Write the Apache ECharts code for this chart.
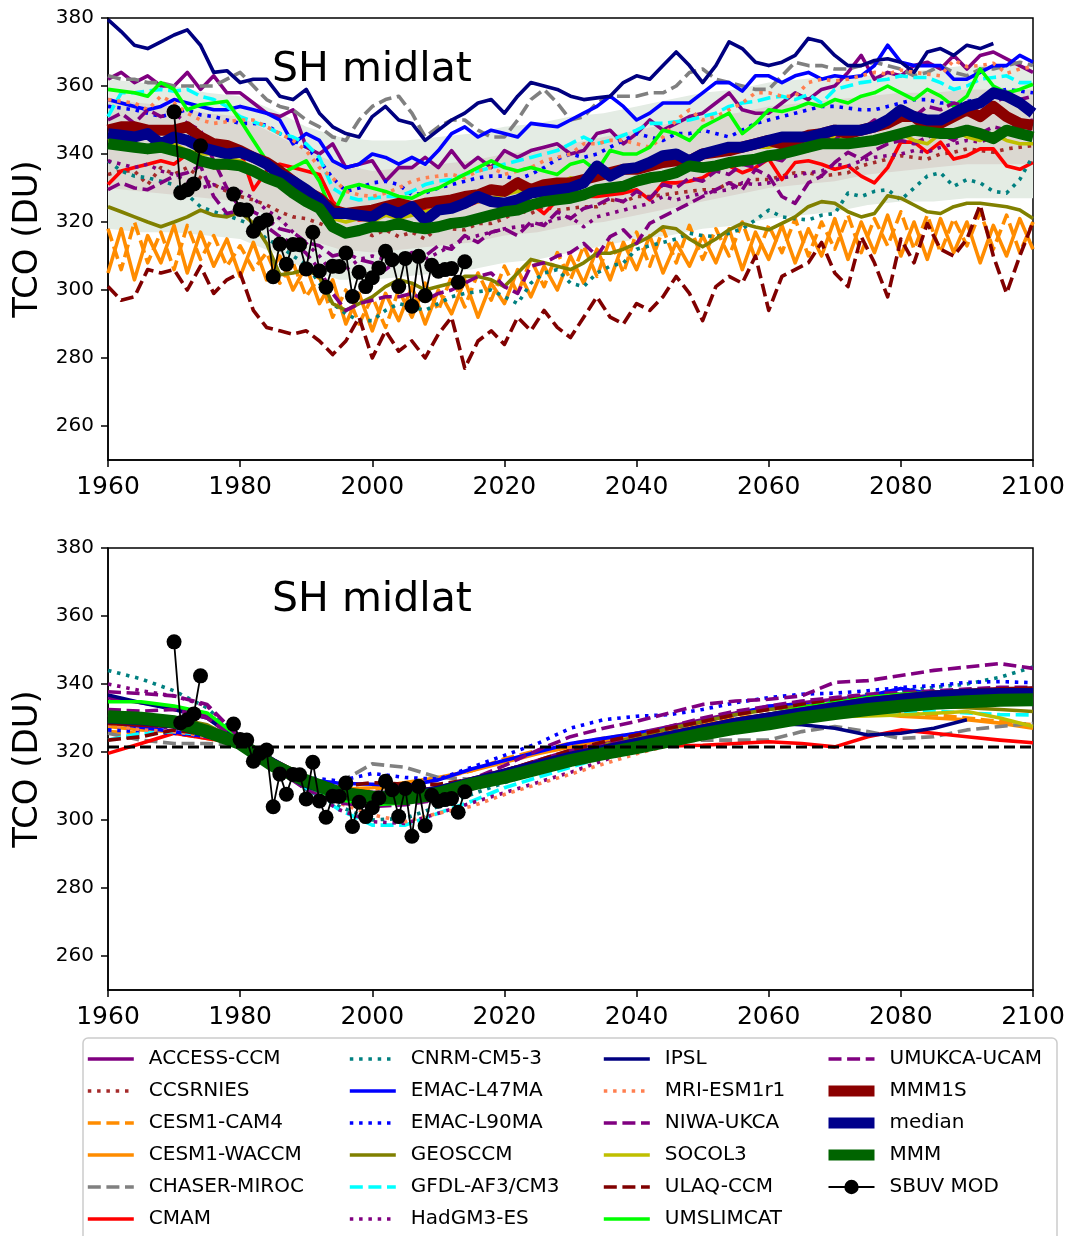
<!DOCTYPE html>
<html><head><meta charset="utf-8">
<script src="https://cdn.jsdelivr.net/npm/echarts@6/dist/echarts.min.js"></script>
<style>html,body{margin:0;padding:0;background:#fff}#c{width:1071px;height:1236px}</style>
</head><body><div id="c"></div>
<script>
// ---------------- DATA ----------------
const yearsTop = [1960,1962,1964,1966,1968,1970,1972,1974,1976,1978,
1980,1982,1984,1986,1988,1990,1992,1994,1996,1998,
2000,2002,2004,2006,2008,2010,2012,2014,2016,2018,
2020,2022,2024,2026,2028,2030,2032,2034,2036,2038,
2040,2042,2044,2046,2048,2050,2052,2054,2056,2058,
2060,2062,2064,2066,2068,2070,2072,2074,2076,2078,
2080,2082,2084,2086,2088,2090,2092,2094,2096,2098,
2100];
const yearsBot = [1960,1965,1970,1975,1980,1985,1990,1995,2000,2005,
2010,2015,2020,2025,2030,2035,2040,2045,2050,2055,
2060,2065,2070,2075,2080,2085,2090,2095,2100];
const yearsObs = [1970,1971,1972,1973,1974,1975,1976,1977,1978,1979,
1980,1981,1982,1983,1984,1985,1986,1987,1988,1989,
1990,1991,1992,1993,1994,1995,1996,1997,1998,1999,
2000,2001,2002,2003,2004,2005,2006,2007,2008,2009,
2010,2011,2012,2013,2014];
const yTicks = [260,280,300,320,340,360,380];
const refLevel = 321.5;

const accessTop = [362,364,361,363,360,360,364,359,363,358, 358,355,352,351,353,342,340,343,336,337, 338,332,336,336,339,336,341,336,339,336, 341,339,341,342,343,340,341,346,347,343, 346,350,347,349,351,352,355,358,353,352, 352,355,358,356,359,360,364,369,362,364, 363,366,367,365,369,365,369,370,368,366, 364];
const ccsrTop = [334,335,335,331,336,334,336,333,331,329, 327.5,326.5,325,323,321.5,321,319.6,318,316,317.7, 316,317.7,315.7,317,315,318.6,318,317.7,319.6,319.6, 321,323.5,322.5,324.5,323.5,324,324.5,324.5,326.5,326, 327.5,327.5,328,328.5,329,329.5,329.5,331.5,331,332.5, 332.5,333.5,334.5,334.5,333.5,334,334.5,336.5,337.5,338.5, 339.5,339,338.5,340,340.5,341.5,341,340.5,341.5,342, 342.5];
const cam4Top = [318,306,320,308,317,306,319,309,316,307, 313,306,311,302,308,298,304,292,300,290, 298,289,300,292,302,294,304,295,305,297, 307,299,309,301,311,303,313,304,315,305, 317,307,318,308,319,309,318,310,320,309, 319,311,321,310,320,312,322,311,321,313, 323,312,322,311,321,313,323,312,322,311, 320];
const waccmTop = [305,318,303,316,308,319,305,317,307,315, 304,314,303,310,300,307,296,303,290,299, 288,299,291,301,290,300,293,303,292,302, 296,306,298,307,300,310,302,312,303,314, 306,316,305,314,307,316,308,318,306,317, 309,319,308,318,310,321,309,320,311,322, 310,320,309,321,311,320,308,319,310,321, 312];
const chaserTop = [363,362,362,361,361,360,360,360,360,362, 364,360,356,354,353,350,348,345,344,350, 354,356,357,352,345,348,350,350,347,345, 345,350,356,359,355,350,351,355,357,357, 357,358,358,360,364,365,362,361,360,359, 359,363,367,366,366,365,365,366,367,366, 365,363,364,366,364,363,365,365,366,367, 366];
const cmamTop = [331,335,336,337,338,337,340,338,336,336, 341,329.5,335,337,336,335,334,326,322,320.6, 321,322,322.5,323,323.5,323.5,324,324.5,326,326.5, 325.5,327.5,325.5,322.5,326.5,327,327.5,327.5,328,328.5, 329.5,326.5,331.5,331.5,332,333,335.5,336.5,334.5,336, 338.5,332.5,337.5,338,337,335.5,336.5,333.5,331.5,336, 343.5,343.5,340.5,343.5,338.5,339.5,341.5,341.5,336.5,335.5, 337.5];
const cnrmTop = [338,335,333.5,333,332,331,328,324.5,323,322, 320.5,319,315,313,310,307.5,302,296,293,291, 291,294,296,295,294,296,298,299,299.5,300, 298,296,302,305,306,302,301,305,307,308, 312,313,314,315,316.7,316,315.7,316.7,318,320.6, 323.5,321.5,321,320.6,322,322.5,328.5,327.5,329,329.5, 326.5,330,333.5,334.5,330.5,332.5,331.5,329,328.5,332.5, 339.5];
const emac47Top = [356,355,354,353,354,356,355,354,353,353, 354,353,352,350,343,346,344,338,336,337, 340,339,337,339,337,341,346,348,345,347, 346,345,349,348.5,348,350,352,354,357,354, 350,352,355,355,355,358,361,361,358.5,363, 363,361,363,364,362,363,362.5,363,366,372, 367,366,366,366,362,362,364,366,366,369, 367];
const emac90Top = [354,353.5,353,352,351,352,353,351.5,351,350, 349,349,348.5,346,344,342,338,333,329,330, 331.5,332,331,328,328.5,330,331,332,333,333.5, 333.5,332.5,334,336,338.5,340,339,340,342,344, 346,345,344,346,346,347,346,345,347,349, 350,351,352,353,354,354,353.5,353,353,354, 355,356,356,355,355,355.5,356,358,359,358.5, 358];
const geosTop = [324.5,323,321.5,320,318.6,320,321.5,323.5,322,321.5, 323,319.6,313.7,304.5,305,306,304,296,294,296, 298,301,303,302,300,301,302,304,304,303, 301,305,309,308,307,306,308,310.8,310.8,312, 313.7,315.7,318.6,318,315,312.7,315,317.7,319.6,318.5, 317.7,319.6,321.5,324.5,326,325.5,323,321.5,322.5,327.7, 327,325,323,322.5,324.5,325.5,325.5,325,324.5,323.5, 321];
const gfdlTop = [351,358,358,358.5,359,358.5,359,357,356,354, 351,349.5,348,346,345,343,339,330,327.5,326.5, 327,327.5,327.5,329,331,332,332.5,334,335,336, 337,338,339,340,341,343,345,343,344,345.5, 347,349,349,349.5,350,351,352,354,355,355.5, 356.5,357,356,357.5,355,359,360,361,361.5,362, 363,362.5,362.5,361,359,360,362,362.5,363,361, 361];
const hadTop = [338,337,336,337,335,334,332,330,331,329.5, 329,327,323.5,321,317,313.7,310,305,306,309, 310,309,309.5,310,309,311,313,315,316,317, 318,318.6,319,319.6,321,321.5,318.6,321.5,322.5,323.5, 324.5,325.5,327.5,326.5,327.5,328.5,329,329.5,331.5,331, 331.5,333,333.5,334.5,335,337,336.5,338,339,339.5, 340,341,340.5,342,343,344,343.5,345,346,346.5, 347];
const ipslTop = [379.5,376,372,371,373,375,376.5,372,364,364.5, 361,362,362,357,356,359,352,348,346,345, 351,354,350,349,344,347,350,352,355,356, 352,357,361,360,359,357,356,356.5,357,361, 363,362,366,370,366,361,366,373,371,367, 366,367,369,374,373,369,366,366,367.5,368, 367,364,370,371,369,372,371,372.5];
const mriTop = [356,355.5,355,353,357,355,352,350,349,349.5, 350,350,348,346,344,341,336,333,329,328, 327.5,328.5,330,332,333,333.5,334,333,335,336, 334,335,336,338,339,340,343,343,344,344, 343,342,345,350,353,350,351,353,355,358, 358,357,357,361,362,361.5,362,363,364,363.5, 364.7,364,363.5,363,367.6,365.7,366,366.7,363.7,365, 365.7];
const niwaTop = [329.5,331.5,330,329.5,331.5,333.5,334.5,336.5,327.5,322.5, 323.5,321.5,318.6,315.7,313.7,310.8,306,299,294,296, 297,298,298,299,297,299,300,302,304,305, 301,299,307,308,310,311,313.7,310,315.7,317.7, 313.7,319.6,321.6,323.5,325.5,327.5,329.5,331.5,329.5,335.5, 333.5,327.5,325.5,331.5,333.5,337.5,340.5,338.5,341,343, 344,343,345,346,344,347,346,348,347,349, 350];
const socolTop = [344,345,344,345,343,343,341,340,340,339, 338,336,334,331,329,326,323,321,320,321, 320,322,321,322,323,324,325,326,326,327, 328,329,329,330,331,333,332,334,335,335, 336,337,337,338,339,339,340,340,341,342, 342,343,343,344,344,345,345,343,345,346, 346,344,343,346,347,345,344,346,344,343, 343];
const ulaqTop = [301,297,298,306,305,306,300,307,299,303, 305,294,289,288,287,288,285,281,285,292, 280,288,282,285,280,287,292,277,285,288, 284,292,288,294,289,286,292,298,292,290, 296,294,298,304,299,291,301,304,302,310, 294,304,306,308,314,305,301,315.7,308,298, 315,308,319.6,312,310,315,325,310,299,310, 320];
const umslimTop = [359,358.5,358,357,361,359,353,354.5,355,355.5, 350,344,338,334,336,338,332,322,330,331, 330,329,327.5,327,329,330,332,334,336,338, 336,335,336,335,334,337,338,335,341,340, 340,342,347,346,344,348,350,352,346,349, 353,352.5,353.5,355,354,356,355,357,358,360, 358,356,359,357,354,357,365,360,358,359, 360.5];
const umukcaTop = [350,352,349,353,351,352,349,347,338,330, 324,323,321,318,317,314,313,310,311,309, 308,306,309,311,310,313,312,316,314,317, 318,316,320,319,323,321,324,325,327,326, 329,327,331,330,333,332,335,334,337,336, 339,338,342,341,345,344,348,347,350,349, 352,351,354,353,355,354,356,355,357,356, 357];
const mmm1sTop = [347,348,348,347,347,347,348,345,343,342.5, 341,339,337.5,335,332,329,327,323.5,322.5,323, 323.5,324.5,325.5,324.5,325.5,326,326.5,327.5,328,329.5, 329,331.5,329.5,331,331.5,331.5,332.5,333.5,334.5,335.5, 335.5,336.5,337.5,338,338,340,340.5,341,342,343, 344,343,344,345.5,346,347,346,347,348,349, 351,351,348,349,351,353,351,354,351,349, 348.5];
const medianTop = [346,345.5,345,346,343,345,344,342,341,340, 340.5,339,337,334,332,329.5,326.5,322.5,322.5,322, 321.5,324,322.5,324.5,320.5,323.5,324,325.5,327.5,326, 325.5,326.5,328.5,329,329.5,330,331.5,336.5,333.5,335.5, 336,337.5,339.5,340,338,340,341,342,342,343, 344,345,345,345,346,347,347,347,348,350, 353,351,350,350,352,354,355,358,357,355, 352];
const mmmTop = [343,342.5,342,341.5,342,341,340,338,337,337, 336.5,335,333,331.5,328.5,326,324,318.6,316.7,317.5, 318.6,318.6,319.6,318.5,318,318.6,319.6,320,321,322, 323,323.5,325,326,326.5,327,328,329.5,330,330.5, 332,333,333.5,334.5,336.5,336,336.5,337.5,338,338.5, 339.5,340,341,342,343,343,343,343.5,344,345, 346,347,346.5,346,346,347,346,344.5,347,346, 345];
// top panel spread bands (5-yearly)
const outerLo = [318,317,317,316,315,311,306,303,303,304, 305,306,308,309,311,313,315,316,318,319, 321,322,323,325,326,326,327,327,327];
const outerHi = [362,361,360,358,357,353,348,345,344,344, 345,346,348,349,351,352,354,356,358,359, 361,362,363,363,364,365,366,366,366];
const innerLo = [330,329,328,327,326,321,315,312,311,312, 313,314,316,317,319,320,322,324,326,328, 330,331,332,334,335,336,337,337,337];
const innerHi = [356,355,354,352,351,346,341,337,335,336, 337,338,340,341,343,345,347,349,351,352, 354,355,356,357,358,358,359,359,359];

// bottom panel (smoothed, 5-yearly)
const accessBot = [336,334.5,333,330.5,323.5,316,310,307,306.5,307, 308.5,311.5,314.5,317.5,320.5,323,325.5,327.5,329.5,331.5, 333,334.5,335.5,336.5,337,337.5,338,338.5,338];
const ccsrBot = [328,327.5,327,325.5,322.5,316.5,311,308,307,307, 308.5,311,313.5,316,318.5,321,323,325,327,329, 330.5,332,333.5,334.5,335.5,336,336.5,336.5,336];
const cam4Bot = [326,325.5,325.5,324,322,316.5,311,309,309,310.5, 312,314.5,318,320.5,322.5,324,325.5,327,328.5,330, 331,332,332.5,332,331.5,331,330,329,328];
const waccmBot = [327.5,326.5,326,324.5,322,316.5,311.5,309,309.5,311, 312.5,314.5,317,319.5,321.5,323.5,325,326.5,328,329.5, 330.5,331.5,332,331.5,330.5,330,329.5,328.5,327];
const chaserBot = [325.5,323.5,322.5,322.5,322,316,311,311,316.5,315.5, 312.5,312,314,316.5,318.5,320.5,322,323,323.5,323.5, 323.5,326,327.5,326,324,324.5,326.5,327.5,328.4];
const cmamBot = [319.6,322.5,325.5,324,322.5,316.5,311,308,307.5,308.5, 309.5,311.5,313.5,315.5,317.5,319.5,321.5,321.8,322,322.5, 323,322.5,321.5,324.5,326.5,325.5,324.5,323.5,322.7];
const cnrmBot = [344,341.5,338,333,324,316,309,304,300,300.5, 304,307.5,311,314,317.5,321,324,326,327.5,329, 330.5,333,335,337,338,339,340,342,345];
const emac47Bot = [328.9,327.3,326,324.5,322.5,317,312,310.8,310.5,310, 311.8,315,317.5,320,322.5,324,325.5,327,329,331, 333.5,334,333,336.5,338.7,337,337.5,338,338.7];
const emac90Bot = [326.5,326,325.5,324.5,322,317,312.5,311.5,313.7,312.5, 312,315.5,319,322.5,327,329.5,330.5,331,332.5,334.5, 336,337,337.3,338,339,339.5,340.5,340.7,340.4];
const geosBot = [331.5,331,330,328,323,316,310,307,306,306.5, 308.5,311,314,317,319.5,322,324.5,327,329,331, 332.5,333.5,333.8,334,333.8,333.5,333,332.5,331.9];
const gfdlBot = [323.5,325.5,326,325,322,316,309.5,303,298.5,298.5, 302,305.5,309.5,312.5,315.5,318.5,321,323.5,325.5,327.5, 329,330,331,331.5,331.9,332,331.5,331,330.9];
const hadBot = [340,338,336.5,333.5,324,316,309,303,299.5,299, 302,305,308,311,314,317.5,321,323.5,326,328, 330,332,334,336,337,337.5,338,338.5,338];
const ipslBot = [336.8,334.5,332.5,330,323,316,310.5,307.5,307,308, 309,311.5,314,316.5,319,321,323,325,326.5,328, 328.4,328,327,325,325.5,327,329.5];
const mriBot = [328,326.5,326,324.5,322,316.5,310.5,305,301.5,299.5, 302,304,307.5,310.5,313.5,316.5,319.5,322,324,326, 327.5,329,330.5,332,333.3,333.8,334,334.2,334.3];
const niwaBot = [332.5,332,332.5,330,323,315.5,309,305,304,304.5, 306,309,312.5,316,319.5,322.5,325,327.5,330,332, 333.5,335,336,337,337.5,338,338.5,339,339];
const socolBot = [331,330,329,327,322.5,316,310.5,307.5,306.5,307, 309,311.5,314,317,319.5,321.5,323.5,325.5,327,328, 328.4,329.5,330.4,330.6,330.9,331.4,331.9,330,327.5];
const ulaqBot = [323.5,324.5,326.5,325,322.5,316.5,312,309.8,311,310.5, 310.5,312,314.5,317.5,320.5,323,325,327,329,331, 332.5,334,335,336,337,337.5,338,338,338.2];
const umslimBot = [334.8,334.8,333.5,331.5,324,316,310,306,304.5,305, 307,310,313,316,318.5,321,323,325,327,329, 331,333,334.5,336,337,337.5,338,338.2,337.5];
const umukcaBot = [337.7,337.2,336.5,334,324,316,310,307,306,306, 308,312,316,320.5,324.5,327,329,331.5,334,335, 335.5,336.5,340.5,341,342.5,344,345,346,344.6];
const mmm1sBot = [329.5,329,328.5,326,322.5,316.5,311.5,308,307,307, 308.5,311,313.5,316,318.5,320.5,322.5,324.5,326.5,328.5, 330,331.5,333,334.5,335.5,336.5,337,337.5,337.7];
const medianBot = [330,329.5,328.5,326,322.5,316.5,311,307.8,307,307, 308.5,311,313.5,316,318.5,320.5,322.5,324.5,326.5,328.5, 330,331.5,333,334.5,335.5,336.5,337,337.2,337.2];
const mmmBot = [330.4,329.9,328.9,326,322.5,316,311.5,308,306.7,306.3, 307.8,310.5,312.5,315,317.5,319.5,321.3,323.3,325.3,327, 328.3,330,331.3,332.5,333.5,334.3,334.8,335.2,335.4];

// observations
const sbuv = [352.4,328.6,329.5,331.2,342.4,null,null,null,null,328.2, 323.7,323.5,317.3,319.6,320.6,303.9,313.5,307.6,313.4,313.3, 306.2,317,305.6,300.8,307,306.9,310.9,298.1,305.2,301, 303.6,306.5,311.4,308.9,301,309.3,295.2,309.9,298.3,307.3, 305.5,306,306.3,302.3,308.3];

// ---------------- STYLE ----------------
const FONT = 'DejaVu Sans';
const LW = 3.6;
const DASH = [13, 5.6];
const DOT = [3.5, 5.8];
const models = [
  {name:'ACCESS-CCM',   color:'#800080', type:'solid', top:accessTop, bot:accessBot},
  {name:'CCSRNIES',     color:'#a52a2a', type:DOT,     top:ccsrTop,   bot:ccsrBot},
  {name:'CESM1-CAM4',   color:'#ff8c00', type:DASH,    top:cam4Top,   bot:cam4Bot},
  {name:'CESM1-WACCM',  color:'#ff8c00', type:'solid', top:waccmTop,  bot:waccmBot},
  {name:'CHASER-MIROC', color:'#808080', type:DASH,    top:chaserTop, bot:chaserBot},
  {name:'CMAM',         color:'#ff0000', type:'solid', top:cmamTop,   bot:cmamBot},
  {name:'CNRM-CM5-3',   color:'#008080', type:DOT,     top:cnrmTop,   bot:cnrmBot},
  {name:'EMAC-L47MA',   color:'#0000ff', type:'solid', top:emac47Top, bot:emac47Bot},
  {name:'EMAC-L90MA',   color:'#0000ff', type:DOT,     top:emac90Top, bot:emac90Bot},
  {name:'GEOSCCM',      color:'#808000', type:'solid', top:geosTop,   bot:geosBot},
  {name:'GFDL-AF3/CM3', color:'#00ffff', type:DASH,    top:gfdlTop,   bot:gfdlBot},
  {name:'HadGM3-ES',    color:'#800080', type:DOT,     top:hadTop,    bot:hadBot},
  {name:'IPSL',         color:'#000080', type:'solid', top:ipslTop,   bot:ipslBot},
  {name:'MRI-ESM1r1',   color:'#ff7f50', type:DOT,     top:mriTop,    bot:mriBot},
  {name:'NIWA-UKCA',    color:'#800080', type:DASH,    top:niwaTop,   bot:niwaBot},
  {name:'SOCOL3',       color:'#bfbf00', type:'solid', top:socolTop,  bot:socolBot},
  {name:'ULAQ-CCM',     color:'#800000', type:DASH,    top:ulaqTop,   bot:ulaqBot},
  {name:'UMSLIMCAT',    color:'#00ff00', type:'solid', top:umslimTop, bot:umslimBot},
  {name:'UMUKCA-UCAM',  color:'#800080', type:DASH,    top:umukcaTop, bot:umukcaBot}
];
const thick = [
  {name:'MMM1S',  color:'#8b0000', top:mmm1sTop,  bot:mmm1sBot,  wTop:11, wBot:11},
  {name:'median', color:'#00008b', top:medianTop, bot:medianBot, wTop:11, wBot:11},
  {name:'MMM',    color:'#006400', top:mmmTop,    bot:mmmBot,    wTop:11, wBot:13}
];

function lineSeries(name, xs, ys, ax, color, width, type) {
  return {
    type:'line', name, xAxisIndex:ax, yAxisIndex:ax,
    data: ys.map((v,i)=>[xs[i], v]),
    symbol:'none', silent:true, animation:false, connectNulls:false,
    lineStyle:{color, width, type, cap:'butt', join:'round'},
    itemStyle:{color}
  };
}
function bandSeries(xs, lo, hi, color, ax) {
  return {
    type:'custom', xAxisIndex:ax, yAxisIndex:ax, silent:true, animation:false,
    data:[[xs[0], lo[0]]],
    renderItem:(params, api) => {
      const up = xs.map((x,i)=>api.coord([x, hi[i]]));
      const dn = xs.map((x,i)=>api.coord([x, lo[i]])).reverse();
      return {type:'polygon', shape:{points: up.concat(dn)}, style:{fill:color}};
    }
  };
}

const series = [];
series.push(bandSeries(yearsBot, outerLo, outerHi, '#e4ece4', 0));
series.push(bandSeries(yearsBot, innerLo, innerHi, '#dbd8d1', 0));
models.forEach(m => series.push(lineSeries(m.name, yearsTop, m.top, 0, m.color, LW, m.type)));
thick.forEach(m => series.push(lineSeries(m.name, yearsTop, m.top, 0, m.color, m.wTop, 'solid')));
models.forEach(m => series.push(lineSeries(m.name, yearsBot, m.bot, 1, m.color, LW, m.type)));
thick.forEach(m => series.push(lineSeries(m.name, yearsBot, m.bot, 1, m.color, m.wBot, 'solid')));
series.push({type:'line', name:'__ref', xAxisIndex:1, yAxisIndex:1, silent:true, animation:false,
  data:[[1960, refLevel],[2100, refLevel]], symbol:'none',
  lineStyle:{color:'#000', width:3, type:[11,5], cap:'butt'}});
[0,1].forEach(ax => series.push({
  type:'line', name:'SBUV MOD', xAxisIndex:ax, yAxisIndex:ax, silent:true, animation:false,
  data: sbuv.map((v,i)=>[yearsObs[i], v]), connectNulls:false,
  symbol:'circle', symbolSize:15, showAllSymbol:true,
  lineStyle:{color:'#000', width:1.8}, itemStyle:{color:'#000'}
}));

const cols = [
  ['ACCESS-CCM','CCSRNIES','CESM1-CAM4','CESM1-WACCM','CHASER-MIROC','CMAM'],
  ['CNRM-CM5-3','EMAC-L47MA','EMAC-L90MA','GEOSCCM','GFDL-AF3/CM3','HadGM3-ES'],
  ['IPSL','MRI-ESM1r1','NIWA-UKCA','SOCOL3','ULAQ-CCM','UMSLIMCAT'],
  ['UMUKCA-UCAM','MMM1S','median','MMM','SBUV MOD']
];
const colLeft = [86, 348, 602, 823];

const axisLine = {show:true, onZero:false, lineStyle:{color:'#000', width:1.5}};
const option = {
  backgroundColor:'#fff',
  animation:false,
  grid:[
    {left:108, top:18, width:925, height:442, show:true, borderColor:'#000', borderWidth:1.5, containLabel:false, outerBoundsMode:'none'},
    {left:108, top:548, width:925, height:442, show:true, borderColor:'#000', borderWidth:1.5, containLabel:false, outerBoundsMode:'none'}
  ],
  xAxis:[0,1].map(i=>({type:'value', gridIndex:i, min:1960, max:2100, interval:20,
    axisLine, axisTick:{show:true, length:7, inside:false, lineStyle:{color:'#000', width:1.5}},
    axisLabel:{fontSize:25, fontFamily:FONT, color:'#000', margin:15, formatter:v=>String(v)},
    splitLine:{show:false}})),
  yAxis:[0,1].map(i=>({type:'value', gridIndex:i, min:250, max:380,
    axisLine, axisTick:{show:true, length:7, inside:false, customValues:yTicks, lineStyle:{color:'#000', width:1.5}},
    axisLabel:{fontSize:20, fontFamily:FONT, color:'#000', margin:14, customValues:yTicks},
    splitLine:{show:false},
    name:'TCO (DU)', nameLocation:'middle', nameGap:60,
    nameTextStyle:{fontSize:34, fontFamily:FONT, color:'#000'}})),
  legend: cols.map((names, k) => ({
    orient:'vertical', left:colLeft[k], top:1047, padding:0,
    itemWidth:46, itemHeight: k===3 ? 18 : 14, itemGap:8,
    selectedMode:false, z:10,
    itemStyle:{opacity:0},
    lineStyle:{width:'inherit'},
    data: names.map(n => n==='SBUV MOD' ? {name:n, itemStyle:{opacity:1}} : {name:n}),
    textStyle:{fontSize:20, fontFamily:FONT, color:'#000', lineHeight:24, padding:[0,0,0,10]}
  })),
  graphic:[
    {type:'rect', z:0, silent:true, shape:{x:83, y:1038, width:974, height:230, r:5},
     style:{fill:'#fff', stroke:'#cccccc', lineWidth:1.5}},
    {type:'text', z:5, x:272, y:70, silent:true,
     style:{text:'SH midlat', fontSize:41, fontFamily:FONT, fill:'#000', align:'left', verticalAlign:'middle'}},
    {type:'text', z:5, x:272, y:600, silent:true,
     style:{text:'SH midlat', fontSize:41, fontFamily:FONT, fill:'#000', align:'left', verticalAlign:'middle'}}
  ],
  series
};
const chart = echarts.init(document.getElementById('c'), null, {renderer:'canvas', width:1071, height:1236});
chart.setOption(option);
</script>
</body></html>
